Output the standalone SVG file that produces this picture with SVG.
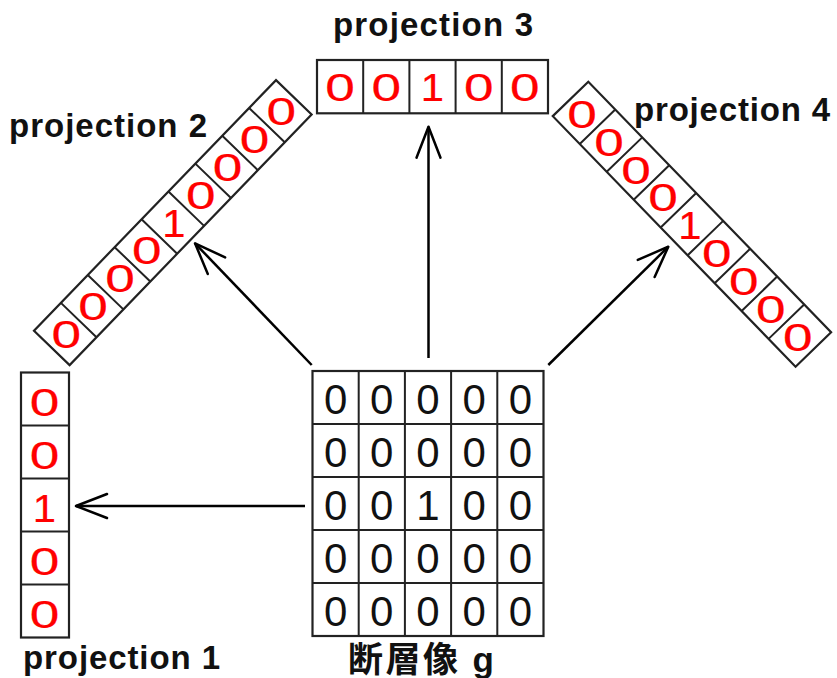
<svg xmlns="http://www.w3.org/2000/svg" width="837" height="678" viewBox="0 0 837 678">
<style>
.box{fill:none;stroke:#222;stroke-width:2.2}
.cell{fill:none;stroke:#222;stroke-width:2}
.g{font-family:"Liberation Sans",Arial,sans-serif;font-size:42px;fill:#111;text-anchor:middle}
.r{font-family:"Liberation Sans",Arial,sans-serif;font-size:38px;fill:#ff0000;stroke:#ff0000;stroke-width:0.2;text-anchor:middle}
.lbl{font-family:"Liberation Sans",Arial,sans-serif;font-size:33px;font-weight:bold;fill:#111}
.jp{font-family:"Liberation Sans","Noto Sans CJK JP",sans-serif;font-size:35px;font-weight:bold;fill:#111}
.arr{fill:none;stroke:#000;stroke-width:2.5;marker-end:url(#ah)}
</style>
<defs>
<marker id="ah" markerUnits="userSpaceOnUse" markerWidth="40" markerHeight="40" viewBox="-35 -20 40 40" refX="0" refY="0" orient="auto" overflow="visible">
<path d="M-31,-12 L0,0 L-31,12" fill="none" stroke="#000" stroke-width="2.5" stroke-linecap="round" stroke-linejoin="round"/>
</marker>
</defs>
<rect width="837" height="678" fill="#fff"/>

<g id="connectors">
<line class="arr" x1="305" y1="506" x2="76" y2="506"/>
<line class="arr" x1="311.7" y1="365" x2="195" y2="243.3"/>
<line class="arr" x1="428.5" y1="358" x2="428.5" y2="126.7"/>
<line class="arr" x1="548.3" y1="365" x2="668.3" y2="246.7"/>
</g>

<g id="image-g">
<rect class="box" x="312.5" y="371" width="231" height="265"/>
<path class="cell" d="M358.7,371V636M404.9,371V636M451.1,371V636M497.3,371V636M312.5,424H543.5M312.5,477H543.5M312.5,530H543.5M312.5,583H543.5"/>
<g class="g">
<text x="335.6" y="414">0</text><text x="381.8" y="414">0</text><text x="428" y="414">0</text><text x="474.2" y="414">0</text><text x="520.4" y="414">0</text>
<text x="335.6" y="467">0</text><text x="381.8" y="467">0</text><text x="428" y="467">0</text><text x="474.2" y="467">0</text><text x="520.4" y="467">0</text>
<text x="335.6" y="520">0</text><text x="381.8" y="520">0</text><text x="428" y="520">1</text><text x="474.2" y="520">0</text><text x="520.4" y="520">0</text>
<text x="335.6" y="573">0</text><text x="381.8" y="573">0</text><text x="428" y="573">0</text><text x="474.2" y="573">0</text><text x="520.4" y="573">0</text>
<text x="335.6" y="626">0</text><text x="381.8" y="626">0</text><text x="428" y="626">0</text><text x="474.2" y="626">0</text><text x="520.4" y="626">0</text>
</g>
<text class="jp" x="348" y="672" textLength="146" lengthAdjust="spacing">断層像 g</text>
</g>

<g id="projection-1">
<rect class="box" x="21" y="372.5" width="48" height="265"/>
<path class="cell" d="M21,425.5H69M21,478.5H69M21,531.5H69M21,584.5H69"/>
<g class="r">
<text transform="translate(44.5,416) scale(1.4,1)">0</text>
<text transform="translate(44.5,469) scale(1.4,1)">0</text>
<text transform="translate(44.5,522) scale(1.1,1)">1</text>
<text transform="translate(44.5,575) scale(1.4,1)">0</text>
<text transform="translate(44.5,628) scale(1.4,1)">0</text>
</g>
<text class="lbl" x="23" y="669" textLength="197" lengthAdjust="spacing">projection 1</text>
</g>

<g id="projection-3">
<rect class="box" x="317" y="60" width="231" height="53.3"/>
<path class="cell" d="M363.2,60V113.3M409.4,60V113.3M455.6,60V113.3M501.8,60V113.3"/>
<g class="r">
<text transform="translate(340.1,100.5) scale(1.4,1)">0</text>
<text transform="translate(386.3,100.5) scale(1.4,1)">0</text>
<text transform="translate(432.5,100.5) scale(1.1,1)">1</text>
<text transform="translate(478.7,100.5) scale(1.4,1)">0</text>
<text transform="translate(524.9,100.5) scale(1.4,1)">0</text>
</g>
<text class="lbl" x="333" y="36" textLength="200" lengthAdjust="spacing">projection 3</text>
</g>

<g id="projection-2">
<g transform="translate(34,330.7) rotate(-46)">
<rect class="box" x="0" y="0" width="348.4" height="49.5"/>
<path class="cell" d="M38.71,0V49.5M77.42,0V49.5M116.13,0V49.5M154.84,0V49.5M193.56,0V49.5M232.27,0V49.5M270.98,0V49.5M309.69,0V49.5"/>
<g class="r">
<text transform="translate(19.36,24.75) rotate(46) translate(1,14) scale(1.4,1)">0</text>
<text transform="translate(58.07,24.75) rotate(46) translate(1,14) scale(1.4,1)">0</text>
<text transform="translate(96.78,24.75) rotate(46) translate(1,14) scale(1.4,1)">0</text>
<text transform="translate(135.49,24.75) rotate(46) translate(1,14) scale(1.4,1)">0</text>
<text transform="translate(174.2,24.75) rotate(46) translate(1,14) scale(1.1,1)">1</text>
<text transform="translate(212.91,24.75) rotate(46) translate(1,14) scale(1.4,1)">0</text>
<text transform="translate(251.62,24.75) rotate(46) translate(1,14) scale(1.4,1)">0</text>
<text transform="translate(290.33,24.75) rotate(46) translate(1,14) scale(1.4,1)">0</text>
<text transform="translate(329.04,24.75) rotate(46) translate(1,14) scale(1.4,1)">0</text>
</g>
</g>
<text class="lbl" x="9" y="137" textLength="198" lengthAdjust="spacing">projection 2</text>
</g>

<g id="projection-4">
<g transform="translate(588.3,81.7) rotate(45.9)">
<rect class="box" x="0" y="0" width="348.9" height="49.5"/>
<path class="cell" d="M38.77,0V49.5M77.53,0V49.5M116.3,0V49.5M155.07,0V49.5M193.83,0V49.5M232.6,0V49.5M271.37,0V49.5M310.13,0V49.5"/>
<g class="r">
<text transform="translate(19.38,24.75) rotate(-45.9) translate(-2,15) scale(1.4,1)">0</text>
<text transform="translate(58.15,24.75) rotate(-45.9) translate(-2,15) scale(1.4,1)">0</text>
<text transform="translate(96.92,24.75) rotate(-45.9) translate(-2,15) scale(1.4,1)">0</text>
<text transform="translate(135.68,24.75) rotate(-45.9) translate(-2,15) scale(1.4,1)">0</text>
<text transform="translate(174.45,24.75) rotate(-45.9) translate(-2,15) scale(1.1,1)">1</text>
<text transform="translate(213.22,24.75) rotate(-45.9) translate(-2,15) scale(1.4,1)">0</text>
<text transform="translate(251.98,24.75) rotate(-45.9) translate(-2,15) scale(1.4,1)">0</text>
<text transform="translate(290.75,24.75) rotate(-45.9) translate(-2,15) scale(1.4,1)">0</text>
<text transform="translate(329.52,24.75) rotate(-45.9) translate(-2,15) scale(1.4,1)">0</text>
</g>
</g>
<text class="lbl" x="634" y="121" textLength="196" lengthAdjust="spacing">projection 4</text>
</g>
</svg>
